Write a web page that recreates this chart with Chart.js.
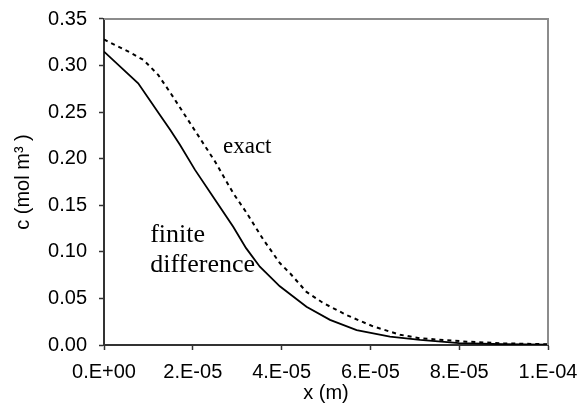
<!DOCTYPE html>
<html>
<head>
<meta charset="utf-8">
<script src="https://cdn.jsdelivr.net/npm/chart.js@4.4.0/dist/chart.umd.min.js"></script>
<style>
  body { margin: 0; background: #fff; }
  #wrap { width: 581px; height: 410px; }
</style>
</head>
<body>
<div id="wrap"><canvas id="myChart" width="581" height="410"></canvas></div>
<script>
// x in metres, c in mol m-3
const fdX = [0, 0.77e-5, 1.26e-5, 1.49e-5, 1.71e-5, 2.05e-5, 2.46e-5, 2.91e-5, 3.2e-5, 3.51e-5, 3.96e-5, 4.56e-5, 5.09e-5, 5.69e-5, 6.44e-5, 7.12e-5, 8.0e-5, 9.0e-5, 1.0e-4];
const fdC = [0.315, 0.281, 0.247, 0.231, 0.215, 0.188, 0.159, 0.127, 0.104, 0.084, 0.063, 0.041, 0.027, 0.016, 0.0089, 0.0054, 0.002, 0.0008, 0.0003];

const exactX = [0, 0.59e-5, 0.89e-5, 1.22e-5, 1.52e-5, 1.86e-5, 2.16e-5, 2.5e-5, 2.91e-5, 3.21e-5, 3.59e-5, 3.96e-5, 4.19e-5, 4.56e-5, 4.94e-5, 5.47e-5, 6.06e-5, 6.67e-5, 7.12e-5, 8.17e-5, 9.0e-5, 1.0e-4];
const exactC = [0.328, 0.314, 0.306, 0.29, 0.269, 0.244, 0.222, 0.197, 0.163, 0.142, 0.113, 0.088, 0.077, 0.057, 0.045, 0.032, 0.02, 0.011, 0.0072, 0.0036, 0.0018, 0.0008];

const xTickLabels = ["0.E+00", "2.E-05", "4.E-05", "6.E-05", "8.E-05", "1.E-04"];
const yTickLabels = ["0.00", "0.05", "0.10", "0.15", "0.20", "0.25", "0.30", "0.35"];

const tickFont = { family: "'Liberation Sans', Arial, sans-serif", size: 20 };

function toPoints(xs, ys) {
  return xs.map(function (x, i) { return { x: x, y: ys[i] }; });
}

// grey frame on top and right, text labels on the curves
const extras = {
  id: "extras",
  afterDraw: function (chart) {
    const ctx = chart.ctx;
    const a = chart.chartArea;
    const xs = chart.scales.x;
    const ys = chart.scales.y;
    ctx.save();
    ctx.strokeStyle = "#8c8c8c";
    ctx.lineWidth = 2;
    ctx.beginPath();
    ctx.moveTo(a.left, a.top);
    ctx.lineTo(a.right, a.top);
    ctx.lineTo(a.right, a.bottom);
    ctx.stroke();

    ctx.fillStyle = "#000";
    ctx.textBaseline = "alphabetic";
    ctx.textAlign = "left";
    ctx.font = "23px 'Liberation Serif', 'Times New Roman', serif";
    ctx.fillText("exact", xs.getPixelForValue(2.68e-5), ys.getPixelForValue(0.206));
    ctx.font = "26px 'Liberation Serif', 'Times New Roman', serif";
    ctx.fillText("finite", xs.getPixelForValue(1.04e-5), ys.getPixelForValue(0.111));
    ctx.fillText("difference", xs.getPixelForValue(1.04e-5), ys.getPixelForValue(0.0785));
    ctx.restore();
  }
};

const ctx = document.getElementById("myChart");
new Chart(ctx, {
  type: "line",
  data: {
    datasets: [
      {
        label: "finite difference",
        data: toPoints(fdX, fdC),
        borderColor: "#000",
        borderWidth: 1.8,
        pointRadius: 0,
        tension: 0,
      },
      {
        label: "exact",
        data: toPoints(exactX, exactC),
        borderColor: "#000",
        borderWidth: 2,
        borderDash: [4, 4],
        pointRadius: 0,
        tension: 0,
      },
    ],
  },
  options: {
    responsive: false,
    animation: false,
    layout: { padding: { top: 19, right: 33, left: 0, bottom: 0 } },
    plugins: { legend: { display: false }, tooltip: { enabled: false } },
    scales: {
      x: {
        type: "linear",
        min: 0,
        max: 1e-4,
        afterBuildTicks: function (axis) {
          axis.ticks = xTickLabels.map(function (l, i) { return { value: i * 2e-5 }; });
        },
        afterFit: function (axis) {
          axis.height = 65;
          axis.paddingLeft = 0;
          axis.paddingRight = 0;
        },
        grid: { display: true, drawOnChartArea: false, drawTicks: true, tickLength: 5, tickColor: "#333", tickWidth: 1.5 },
        border: { display: true, color: "#333", width: 2 },
        ticks: {
          color: "#000",
          font: tickFont,
          padding: 10,
          maxRotation: 0,
          callback: function (v, i) { return xTickLabels[i]; },
        },
        title: { display: true, text: "x (m)", color: "#000", font: tickFont, padding: { top: 0, bottom: 5 } },
      },
      y: {
        min: 0,
        max: 0.35,
        afterBuildTicks: function (axis) {
          axis.ticks = yTickLabels.map(function (l, i) { return { value: i * 0.05 }; });
        },
        afterFit: function (axis) {
          axis.width = 104;
          axis.paddingTop = 0;
          axis.paddingBottom = 0;
        },
        grid: { display: true, drawOnChartArea: false, drawTicks: true, tickLength: 5, tickColor: "#333", tickWidth: 1.5 },
        border: { display: true, color: "#333", width: 2 },
        ticks: {
          color: "#000",
          font: tickFont,
          padding: 12,
          callback: function (v, i) { return yTickLabels[i]; },
        },
        title: { display: true, text: "c (mol m\u00B3 )", color: "#000", font: tickFont, padding: { top: 11, bottom: 0 } },
      },
    },
  },
  plugins: [extras],
});
</script>
</body>
</html>
